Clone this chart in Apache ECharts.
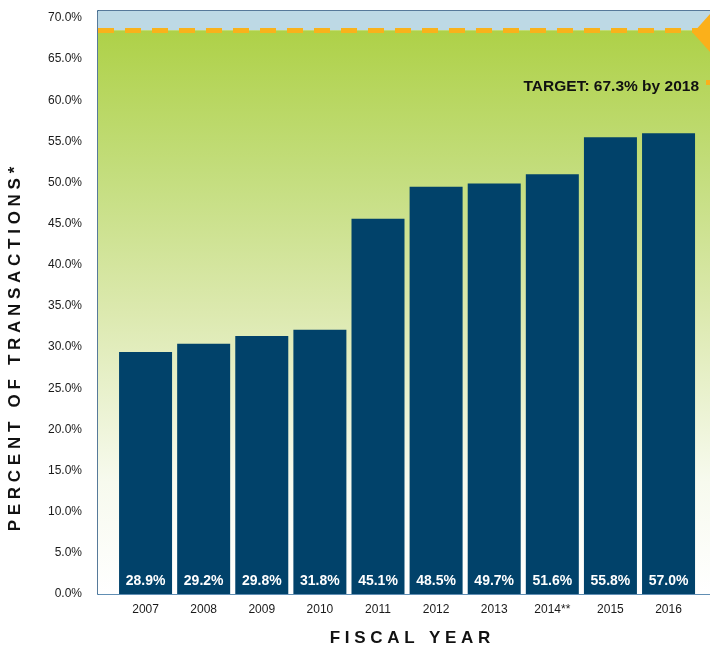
<!DOCTYPE html>
<html>
<head>
<meta charset="utf-8">
<script src="https://cdn.jsdelivr.net/npm/echarts@6/dist/echarts.min.js"></script>
<style>html,body{margin:0;padding:0;background:#fff;}#c{width:710px;height:648px;}</style>
</head>
<body>
<div id="c"></div>
<script>
// ---- data ----
const years = ['2007','2008','2009','2010','2011','2012','2013','2014**','2015','2016'];
const barHeights = [29.4, 30.4, 31.35, 32.1, 45.6, 49.5, 49.9, 51.0, 55.5, 56.0];
const barLabels = [28.9, 29.2, 29.8, 31.8, 45.1, 48.5, 49.7, 51.6, 55.8, 57.0];
const targetLine = 68.5;
const axisTop = 70.85;
const yTicks = [0, 5, 10, 15, 20, 25, 30, 35, 40, 45, 50, 55, 60, 65, 70];
const targetText = 'TARGET: 67.3% by 2018';
const yTitle = 'PERCENT OF TRANSACTIONS*';
const xTitle = 'FISCAL YEAR';

function spaced(s) {
  return s.split(' ').map(w => w.split('').join(' ')).join('   ');
}

const chart = echarts.init(document.getElementById('c'), null, {renderer: 'canvas'});
const FONT = 'Liberation Sans';
const TXT = '#1a1a1a';
const FRAME = '#1F4E79';

const option = {
  animation: false,
  backgroundColor: '#ffffff',
  grid: [
    {left: 98, right: 0, top: 11, bottom: 54},
    {left: 116.5, right: 12.4, top: 11, bottom: 54}
  ],
  xAxis: [
    {type: 'value', gridIndex: 0, min: 0, max: 1, position: 'bottom',
     axisLine: {show: true, onZero: false, lineStyle: {color: '#2E6A9A', width: 1.5}},
     axisTick: {show: false}, axisLabel: {show: false}, splitLine: {show: false}},
    {type: 'value', gridIndex: 0, min: 0, max: 1, position: 'top',
     axisLine: {show: true, onZero: false, lineStyle: {color: FRAME, width: 1.5}},
     axisTick: {show: false}, axisLabel: {show: false}, splitLine: {show: false}},
    {type: 'category', gridIndex: 1, data: years,
     axisLine: {show: false}, axisTick: {show: false}, splitLine: {show: false},
     axisLabel: {color: TXT, fontFamily: FONT, fontSize: 12, margin: 10}}
  ],
  yAxis: [
    {type: 'value', gridIndex: 0, min: 0, max: axisTop, interval: 5,
     axisLine: {show: true, lineStyle: {color: FRAME, width: 1.5}},
     axisTick: {show: false}, splitLine: {show: false},
     axisLabel: {color: TXT, fontFamily: FONT, fontSize: 12, margin: 16,
       showMaxLabel: false,
       formatter: v => (yTicks.indexOf(v) >= 0 ? v.toFixed(1) + '%' : '')}},
    {type: 'value', gridIndex: 1, min: 0, max: axisTop,
     axisLine: {show: false}, axisTick: {show: false}, splitLine: {show: false},
     axisLabel: {show: false}}
  ],
  series: [
    {
      type: 'line', xAxisIndex: 0, yAxisIndex: 0, data: [], z: 1, silent: true,
      markArea: {
        silent: true,
        data: [
          [{yAxis: targetLine, itemStyle: {color: '#BDD9E5'}}, {yAxis: axisTop}],
          [{yAxis: 0, itemStyle: {color: new echarts.graphic.LinearGradient(0, 0, 0, 1, [
            {offset: 0, color: '#AED148'},
            {offset: 0.25, color: '#C3DD7C'},
            {offset: 0.5, color: '#DCE9AF'},
            {offset: 0.8, color: '#F7FAEE'},
            {offset: 1, color: '#FFFFFF'}
          ])}}, {yAxis: targetLine}]
        ]
      },
      markLine: {
        silent: true, symbol: 'none',
        label: {show: false},
        lineStyle: {color: '#F9B21B', width: 5, type: [16, 11]},
        data: [{yAxis: targetLine}]
      }
    },
    {
      type: 'bar', xAxisIndex: 2, yAxisIndex: 1, z: 3,
      data: barHeights,
      barWidth: 53,
      itemStyle: {color: '#01426A'},
      label: {
        show: true, position: 'insideBottom', distance: 6,
        color: '#ffffff', fontFamily: FONT, fontWeight: 'bold', fontSize: 14,
        formatter: p => barLabels[p.dataIndex].toFixed(1) + '%'
      }
    }
  ],
  graphic: [
    {type: 'polygon', z: 100, shape: {points: [[693, 33], [710, 14], [710, 52]]}, style: {fill: '#FBB01A'}},
    {type: 'rect', z: 100, shape: {x: 706, y: 80, width: 4, height: 5}, style: {fill: '#FBB01A'}},
    {type: 'text', z: 100, x: 699, y: 87,
     style: {text: targetText, fill: '#111', font: 'bold 15.5px "' + FONT + '"', textAlign: 'right', textVerticalAlign: 'middle'}},
    {type: 'text', z: 100, x: 15, y: 349, rotation: Math.PI / 2,
     style: {text: spaced(yTitle), fill: '#111', font: 'bold 17px "' + FONT + '"', textAlign: 'center', textVerticalAlign: 'middle'}},
    {type: 'text', z: 100, x: 410, y: 638,
     style: {text: spaced(xTitle), fill: '#111', font: 'bold 17px "' + FONT + '"', textAlign: 'center', textVerticalAlign: 'middle'}}
  ]
};
chart.setOption(option);
</script>
</body>
</html>
